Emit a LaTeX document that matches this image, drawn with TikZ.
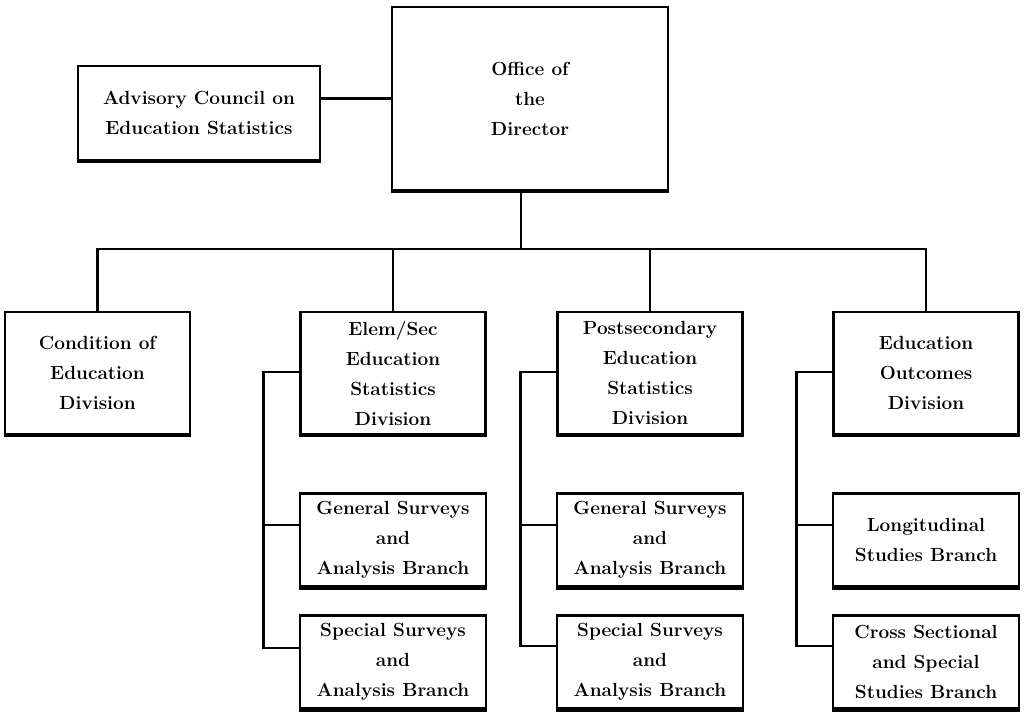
\documentclass[tikz,border=0pt]{standalone}
\usetikzlibrary{positioning}

\begin{document}
\begin{tikzpicture}[
    x=1pt, y=-1pt,
    box/.style={draw, line width=2.5pt, align=center, inner sep=2pt,
        font=\fontsize{19}{30}\selectfont\bfseries,
        append after command={\pgfextra{\draw[line width=4pt]
            (\tikzlastnode.south west) -- (\tikzlastnode.south east);}}},
    division/.style={box, minimum width=185pt, minimum height=122pt},
    branch/.style={box, minimum width=186pt, minimum height=93pt},
    link/.style={line width=2.6pt}
]
\useasboundingbox (0,0) rectangle (1024,715);

% ================= Nodes =================

% Top level: director and advisory council
\node[box, minimum width=276pt, minimum height=183pt] (director) at (530, 98.5) {Office of \\ the \\ Director};
\node[box, minimum width=242pt, minimum height=94pt] (advisory) at (199, 113) {Advisory Council on \\ Education Statistics};

% Divisions
\node[division] (condition) at (97.5, 373) {Condition of \\ Education \\ Division};
\node[division] (elem) at (393, 373) {Elem/Sec \\ Education \\ Statistics \\ Division};
\node[division] (postsec) at (650, 373) {Postsecondary \\ Education \\ Statistics \\ Division};
\node[division] (outcomes) at (926, 373) {Education \\ Outcomes \\ Division};

% Branches under the divisions
\node[branch] (elemgen) at (393, 540) {General Surveys \\ and \\ Analysis Branch};
\node[branch] (elemspec) at (393, 662) {Special Surveys \\ and \\ Analysis Branch};
\node[branch] (postgen) at (650, 540) {General Surveys \\ and \\ Analysis Branch};
\node[branch] (postspec) at (650, 662) {Special Surveys \\ and \\ Analysis Branch};
\node[branch] (longit) at (926, 540) {Longitudinal \\ Studies Branch};
\node[branch] (cross) at (926, 662) {Cross Sectional \\ and Special \\ Studies Branch};

\coordinate (hub) at (521, 249);

% ================= Edges =================

% Director links
\draw[link] (advisory.east |- director.west) -- (director.west);
\draw[line width=2pt] (hub |- director.south) -- (hub);

% Bus to the divisions
\draw[link] (condition.north) |- (hub) -| (outcomes.north);
\draw[link] (elem.north) -- (elem.north |- hub);
\draw[link] (postsec.north) -- (postsec.north |- hub);

% Division spines to branches
\draw[link] ([yshift=1pt]elem.west) -- ++(-36,0) |- ([yshift=14pt]elemspec.west);
\draw[link] ([yshift=15pt]elemgen.west) -- ++(-36,0);
\draw[link] ([yshift=1pt]postsec.west) -- ++(-36,0) |- ([yshift=16pt]postspec.west);
\draw[link] ([yshift=15pt]postgen.west) -- ++(-36,0);
\draw[link] ([yshift=1pt]outcomes.west) -- ++(-36,0) |- ([yshift=16pt]cross.west);
\draw[link] ([yshift=15pt]longit.west) -- ++(-36,0);

\end{tikzpicture}
\end{document}
